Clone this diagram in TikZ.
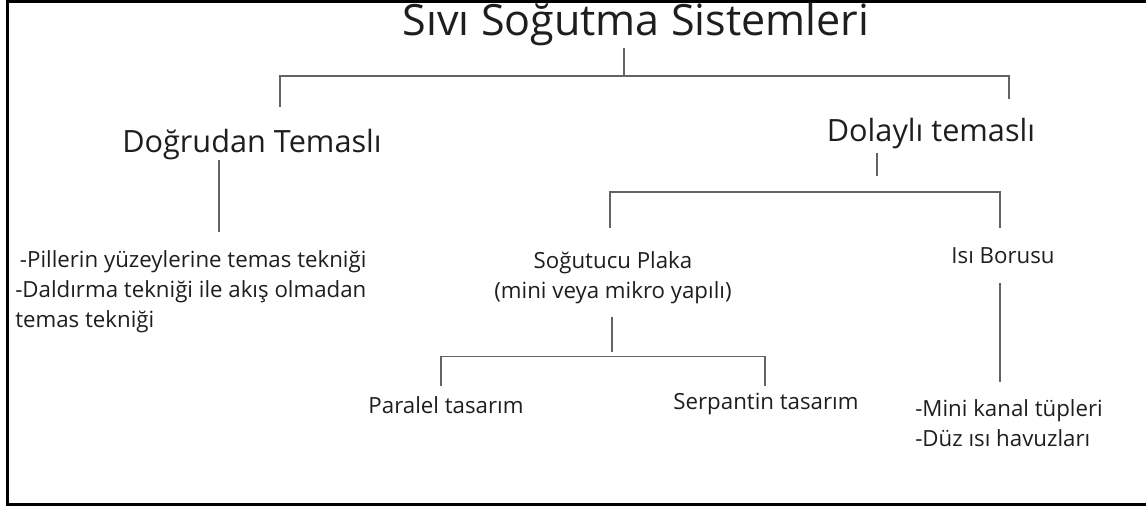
\documentclass[tikz,border=0pt]{standalone}
\usepackage{fontspec}
\setmainfont{Open Sans}
\usetikzlibrary{positioning}
\definecolor{cizgi}{HTML}{636363}
\definecolor{yazi}{HTML}{1E1E1E}
\tikzset{
  baslik/.style = {font=\fontsize{32.3}{38}\selectfont, text=yazi,
                   inner sep=0pt, anchor=base},
  dal/.style    = {font=\fontsize{23}{28}\selectfont, text=yazi,
                   inner sep=0pt, anchor=base},
  kutu/.style   = {font=\fontsize{16.7}{22.5}\selectfont, text=yazi,
                   inner sep=0pt, anchor=base, align=center},
  liste/.style  = {kutu, align=left, anchor=base west},
  kol/.style    = {draw=cizgi, line width=1.1pt},
  cerceve/.style= {draw=black, line width=2pt},
}
\begin{document}
\begin{tikzpicture}[x=0.75pt,y=-0.75pt]
  \useasboundingbox (0,0) rectangle (1146,506);
  \draw[cerceve] (1146,1.5) -- (7.5,1.5) -- (7.5,504.5) -- (1146,504.5);

  % basliklar (cok satirli dugumlerde base = son satir)
  \node[baslik] (siv) at (636,36) {Sıvı Soğutma Sistemleri};
  \node[dal] (dog) at (252,153) {Doğrudan Temaslı};
  \node[dal] (dol) at (931,142) {Dolaylı temaslı};
  \node[kutu] (plk) at (613,298) {Soğutucu Plaka\\(mini veya mikro yapılı)};
  \node[kutu] (isi) at (1003,263) {Isı Borusu};
  \node[kutu] (par) at (446,413) {Paralel tasarım};
  \node[kutu] (ser) at (766,409) {Serpantin tasarım};
  \node[liste] (dogl) at (15,327) {\hspace*{3.5pt}-Pillerin yüzeylerine temas tekniği\\-Daldırma tekniği ile akış olmadan\\temas tekniği};
  \node[liste] (isil) at (915,446) {-Mini kanal tüpleri\\-Düz ısı havuzları};

  % kollar
  \coordinate (sivu) at (624,48);
  \coordinate (a1)   at (624,76);
  \coordinate (dogu) at (280,107);
  \coordinate (dolu) at (1009,99);
  \draw[kol] (sivu) -- (a1);
  \draw[kol] (dogu) |- (a1) -| (dolu);

  \coordinate (dogs) at (219,160);
  \coordinate (dogb) at (219,232);
  \draw[kol] (dogs) -- (dogb);

  \coordinate (dols) at (877,153);
  \coordinate (dolb) at (877,176);
  \draw[kol] (dols) -- (dolb);

  \coordinate (b2)   at (805,192);
  \coordinate (plku) at (610,228);
  \coordinate (isiu) at (1000,228);
  \draw[kol] (plku) |- (b2) -| (isiu);

  \coordinate (plks) at (612,317);
  \coordinate (plkb) at (612,352);
  \draw[kol] (plks) -- (plkb);

  \coordinate (b3)   at (600,356.5);
  \coordinate (paru) at (441,386);
  \coordinate (seru) at (765,386);
  \draw[kol] (paru) |- (b3) -| (seru);

  \coordinate (isis) at (1000,283);
  \coordinate (isib) at (1000,382);
  \draw[kol] (isis) -- (isib);
\end{tikzpicture}
\end{document}
